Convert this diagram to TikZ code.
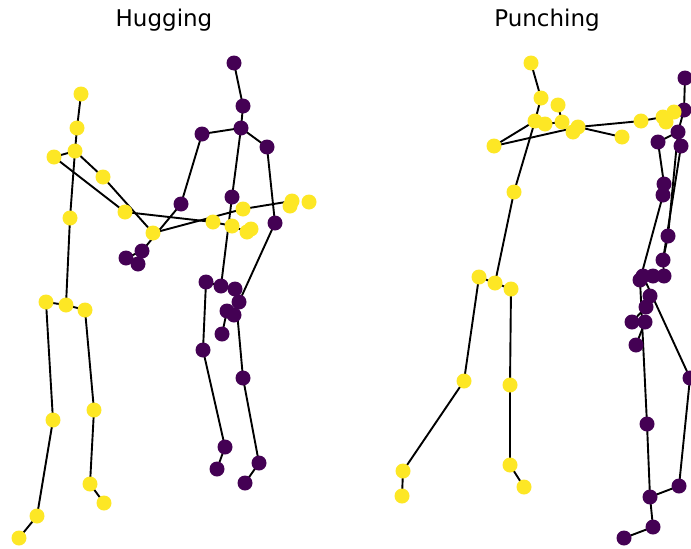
\documentclass[tikz,border=0pt]{standalone}
\usepackage{fontspec}
\setmainfont{DejaVu Sans}
\usetikzlibrary{backgrounds}
\definecolor{vy}{HTML}{FDE725}
\definecolor{vp}{HTML}{440154}
\begin{document}
\begin{tikzpicture}[x=1pt,y=-1pt,
  pj/.style={circle,fill=vp,inner sep=0pt,minimum size=15pt},
  yj/.style={circle,fill=vy,inner sep=0pt,minimum size=15pt},
  bone/.style={black,line width=1.9pt},
  ttl/.style={font=\fontsize{23}{27}\selectfont}]
\useasboundingbox (0,0) rectangle (691,549);
\node[ttl] (t1) at (164,20) {Hugging};
\node[ttl] (t2) at (547,20) {Punching};
% ---------- Hugging, purple ----------
\foreach \n/\x/\y in {p1/234/63,p2/243/106,p3/241/128,p4/202/134,p5/267/147,p6/232/197,
  p7/221/286,p8/206/282,p9/235/289,p10/203/350,p11/225/447,p12/217/469,p13/243/378,
  p14/259/463,p15/245/483,p16/181/204,p17/142/251,p18/126/258,p19/138/264,p20/275/223,
  p21/239/302,p22/234/315,p23/227/311,p24/222/334}
  \node[pj] (\n) at (\x,\y) {};
% ---------- Punching, purple ----------
\foreach \n/\x/\y in {r1/685/78,r2/684/110,r3/678/132,r4/658/142,r5/681/146,r6/664/184,
  r7/663/195,r8/668/236,r9/663/260,r10/664/276,r11/653/276,r12/640/280,r13/643/276,
  r14/650/296,r15/646/307,r16/632/322,r17/645/322,r18/636/345,r19/647/424,r20/650/497,
  r21/653/527,r22/624/538,r23/679/486,r24/690/378}
  \node[pj] (\n) at (\x,\y) {};
% ---------- Hugging, yellow ----------
\foreach \n/\x/\y in {y1/81/94,y2/77/128,y3/75/151,y4/54/157,y5/103/177,y6/125/212,
  y7/153/233,y8/213/222,y9/232/226,y10/247/232,y11/251/229,y12/243/209,y13/292/201,
  y14/290/206,y15/309/202,y16/70/218,y17/66/305,y18/46/302,y19/85/310,y20/53/420,
  y21/37/516,y22/19/538,y23/94/410,y24/90/484,y25/104/503}
  \node[yj] (\n) at (\x,\y) {};
% ---------- Punching, yellow ----------
\foreach \n/\x/\y in {q1/531/63,q2/541/98,q3/535/121,q4/545/124,q5/558/105,q6/562/122,
  q7/578/127,q8/573/132,q9/494/146,q10/622/137,q11/641/121,q12/663/117,q13/666/122,
  q14/674/112,q15/514/192,q16/495/283,q17/479/277,q18/511/289,q19/464/381,q20/403/471,
  q21/402/496,q22/510/385,q23/510/465,q24/524/487}
  \node[yj] (\n) at (\x,\y) {};
\begin{scope}[on background layer]
\fill[white] (0,0) rectangle (691,549);
\foreach \a/\b in {y1/y2,y2/y3,y3/y4,y3/y5,y3/y16,y16/y17,y17/y18,y17/y19,y18/y20,
  y20/y21,y21/y22,y19/y23,y23/y24,y24/y25,y4/y6,y6/y8,y8/y9,y9/y10,y5/y7,y7/y12,y12/y13,
  p1/p2,p2/p3,p3/p4,p3/p5,p3/p6,p6/p7,p7/p8,p7/p9,p8/p10,p10/p11,p11/p12,p9/p13,
  p13/p14,p14/p15,p4/p16,p16/p17,p17/p18,p5/p20,p20/p21,p21/p22,p22/p23,p23/p24,
  q1/q2,q2/q3,q3/q15,q15/q16,q16/q17,q16/q18,q17/q19,q19/q20,q20/q21,q18/q22,q22/q23,
  q23/q24,q3/q9,q9/q7,q7/q10,q7/q11,q11/q12,q3/q4,q4/q6,q6/q5,
  r1/r2,r2/r3,r3/r4,r3/r8,r4/r6,r6/r7,r7/r12,r5/r9,r8/r9,r9/r10,r12/r19,r19/r20,
  r20/r21,r21/r22,r20/r23,r23/r24,r13/r24,r15/r16,r17/r18}
  \draw[bone] (\a.center) -- (\b.center);
\end{scope}
\end{tikzpicture}
\end{document}
